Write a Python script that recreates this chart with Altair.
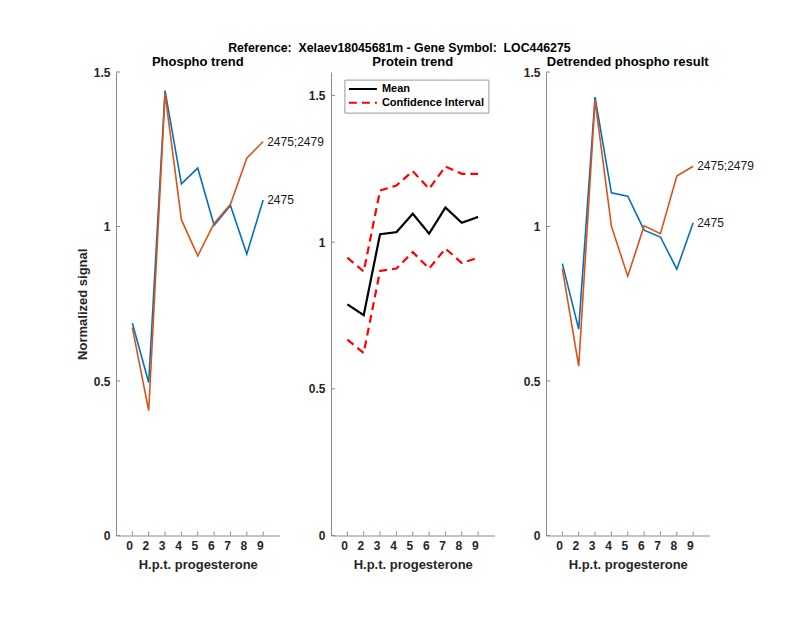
import altair as alt
import pandas as pd

hours = [0, 2, 3, 4, 5, 6, 7, 8, 9]
series_names = ["2475", "2475;2479"]
phospho_2475 = [0.687, 0.495, 1.440, 1.138, 1.189, 1.004, 1.068, 0.911, 1.086]
phospho_2475_2479 = [0.673, 0.404, 1.430, 1.022, 0.905, 1.010, 1.072, 1.221, 1.275]
protein_mean = [0.788, 0.751, 1.027, 1.034, 1.097, 1.029, 1.118, 1.066, 1.086]
protein_lower = [0.668, 0.622, 0.902, 0.910, 0.966, 0.910, 0.978, 0.929, 0.947]
protein_upper = [0.947, 0.900, 1.176, 1.193, 1.242, 1.182, 1.258, 1.233, 1.233]
detrended_2475 = [0.880, 0.668, 1.419, 1.109, 1.098, 0.988, 0.966, 0.862, 1.012]
detrended_2475_2479 = [0.864, 0.548, 1.408, 1.001, 0.839, 1.002, 0.977, 1.163, 1.195]
y_ticks = [0, 0.5, 1, 1.5]

W, H = 163.5, 463.5
AXC = "#8a8a8a"
TXT = "#262626"
FONT = "Liberation Sans"
NB = "\u00a0"


def long_df(cols, names):
    rows = []
    for name, vals in zip(names, cols):
        for h, v in zip(hours, vals):
            rows.append({"hour": h, "value": v, "series": name})
    return pd.DataFrame(rows)


phospho_df = long_df([phospho_2475, phospho_2475_2479], series_names)
detrended_df = long_df([detrended_2475, detrended_2475_2479], series_names)
prot_rows = []
for stat, bound, vals in [("Mean", "mean", protein_mean),
                          ("Confidence Interval", "lower", protein_lower),
                          ("Confidence Interval", "upper", protein_upper)]:
    for h, v in zip(hours, vals):
        prot_rows.append({"hour": h, "value": v, "stat": stat, "bound": bound})
protein_df = pd.DataFrame(prot_rows)

xtick_df = pd.DataFrame({"hour": hours})
ytick_df = pd.DataFrame({"v": y_ticks})


def x_enc():
    return alt.X("hour:O", scale=alt.Scale(type="point", padding=1, domain=hours),
                 axis=alt.Axis(title="H.p.t. progesterone", labelAngle=0, ticks=False,
                               tickSize=0, labelPadding=10, titlePadding=7,
                               domainColor=AXC, labelColor=TXT, labelFontSize=12,
                               labelFontWeight="bold", labelFont=FONT,
                               titleFont=FONT, titleFontSize=13, titleFontWeight="bold",
                               titleColor=TXT))


def y_enc(domain, title=None):
    ax = dict(values=y_ticks, format="~g", ticks=False, tickSize=0, labelPadding=6,
              domainColor=AXC, labelColor=TXT, labelFontSize=12, labelFontWeight="bold",
              labelFont=FONT, grid=False)
    if title:
        ax.update(title=title, titleFont=FONT, titleFontSize=13, titleFontWeight="bold",
                  titleColor=TXT, titlePadding=3.5)
    else:
        ax.update(title=None)
    return alt.Y("value:Q", scale=alt.Scale(domain=domain, nice=False, zero=False),
                 axis=alt.Axis(**ax))


def tick_layers(domain):
    xt = alt.Chart(xtick_df).mark_rule(color=AXC, strokeWidth=1).encode(
        x=alt.X("hour:O", scale=alt.Scale(type="point", padding=1, domain=hours)),
        y=alt.value(H), y2=alt.value(H - 4))
    yt = alt.Chart(ytick_df).mark_rule(color=AXC, strokeWidth=1).encode(
        y=alt.Y("v:Q", scale=alt.Scale(domain=domain, nice=False, zero=False)),
        x=alt.value(0), x2=alt.value(4))
    return xt, yt


def sub_title(text, offset):
    return alt.TitleParams(text, fontSize=13, font=FONT, fontWeight="bold",
                           color="black", offset=offset, frame="group")


def phospho_panel(df, title, ytitle=None):
    domain = [0, 1.5]
    color = alt.Color("series:N", scale=alt.Scale(domain=series_names,
                                                  range=["#0072BD", "#D95319"]),
                      legend=None)
    lines = alt.Chart(df).mark_line(strokeWidth=1.6).encode(
        x=x_enc(), y=y_enc(domain, ytitle), color=color)
    labels = alt.Chart(df).transform_filter(alt.datum.hour == hours[-1]).mark_text(
        align="left", baseline="middle", dx=4, fontSize=12, font=FONT, color="#1a1a1a"
    ).encode(x=alt.X("hour:O"), y=alt.Y("value:Q"), text="series:N")
    xt, yt = tick_layers(domain)
    return alt.layer(xt, yt, lines, labels).properties(
        width=W, height=H, title=sub_title(title, -3))


def legend_params():
    return alt.Legend(title=None, orient="none", legendX=13.4, legendY=7.6,
                      strokeColor="#999999", fillColor="white", padding=3.5,
                      symbolType="stroke", symbolSize=784, symbolStrokeWidth=2,
                      clipHeight=12, labelFontSize=11, labelFontWeight="bold",
                      labelColor="black", labelFont=FONT, labelOffset=4, rowPadding=1.7)


def protein_panel():
    domain = [0, 1.58]
    stats = ["Mean", "Confidence Interval"]
    color = alt.Color("stat:N", scale=alt.Scale(domain=stats, range=["black", "#FF0000"]),
                      legend=legend_params())
    dash = alt.StrokeDash("stat:N", scale=alt.Scale(domain=stats, range=[[1, 0], [8, 5]]),
                          legend=legend_params())
    lines = alt.Chart(protein_df).mark_line(strokeWidth=2.2).encode(
        x=x_enc(), y=y_enc(domain), color=color, strokeDash=dash, detail="bound:N")
    xt, yt = tick_layers(domain)
    return alt.layer(xt, yt, lines).properties(
        width=W, height=H, title=sub_title("Protein trend", 3))


left = phospho_panel(phospho_df, "Phospho trend", "Normalized signal")
mid = protein_panel()
right = phospho_panel(detrended_df, "Detrended phospho result")

main_title = f"Reference:{NB}{NB}Xelaev18045681m - Gene Symbol:{NB}{NB}LOC446275"

chart = alt.hconcat(left, mid, right, spacing=51, bounds="flush").resolve_scale(
    color="independent", strokeDash="independent", x="independent", y="independent"
).properties(
    title=alt.TitleParams(main_title, fontSize=12.3, font=FONT, fontWeight="bold",
                          color="black", anchor="middle", offset=2, dx=-16),
    padding={"left": 68, "top": 33, "right": 10, "bottom": 10},
).configure(background="white").configure_view(stroke="transparent", strokeWidth=0)

chart.save("out.html", embed_options={"renderer": "svg", "actions": False})
